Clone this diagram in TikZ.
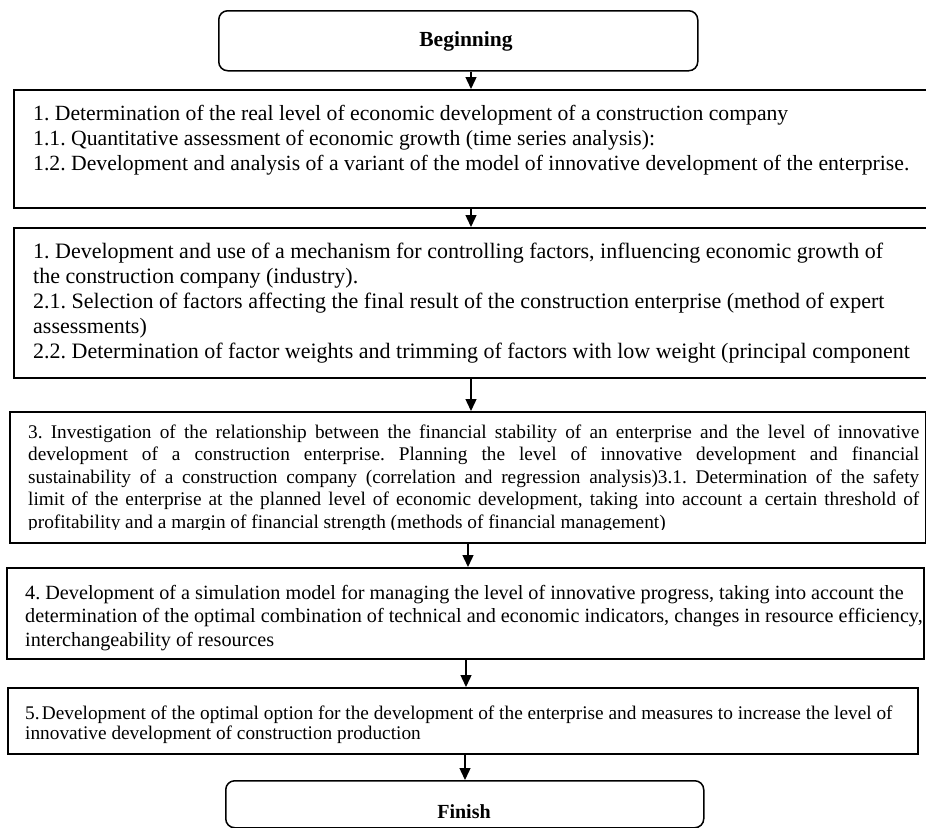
\documentclass[tikz,border=0pt]{standalone}
\usepackage{fontspec}
\setmainfont{Liberation Serif}
\usetikzlibrary{arrows.meta}
\begin{document}
\frenchspacing
\begin{tikzpicture}[x=1pt,y=-1pt,
  stepbox/.style={draw, line width=1.5pt, rectangle, anchor=north west, inner sep=0pt},
  termbox/.style={draw, line width=1.5pt, rectangle, rounded corners=9pt, anchor=north west, inner sep=0pt},
  txt/.style={anchor=north west, inner sep=0pt, align=left},
  jtxt/.style={anchor=north west, inner sep=0pt, align=justify},
  bold/.style={inner sep=0pt, font=\fontsize{21.5}{24}\selectfont\bfseries},
  flow/.style={line width=1.4pt, -{Triangle[length=12pt,width=11pt]}}
]
\useasboundingbox (0,0) rectangle (926,827);
\fill[white] (0,0) rectangle (926,827);

% boxes
\node[termbox, minimum width=479pt, minimum height=60pt] (b0) at (218,10) {};
\node[bold, anchor=base] (t0) at (466,46) {Beginning};

\node[stepbox, minimum width=916pt, minimum height=118pt] (b1) at (13,89) {};
\node[txt, font=\fontsize{21.7}{25}\selectfont] (t1) at (33,103) {\strut 1. Determination of the real level of economic development of a construction company\\
1.1. Quantitative assessment of economic growth (time series analysis):\\
1.2. Development and analysis of a variant of the model of innovative development of the enterprise.};

\node[stepbox, minimum width=916pt, minimum height=150pt] (b2) at (13,227) {};
\node[txt, font=\fontsize{22}{25}\selectfont] (t2) at (33,241) {\strut 1. Development and use of a mechanism for controlling factors, influencing economic growth of\\
the construction company (industry).\\
2.1. Selection of factors affecting the final result of the construction enterprise (method of expert\\
assessments)\\
2.2. Determination of factor weights and trimming of factors with low weight (principal component};

\node[stepbox, minimum width=916pt, minimum height=131pt] (b3) at (9,411) {};
\begin{scope}
\clip (0,411) rectangle (926,529.5);
\node[jtxt, text width=891pt, font=\fontsize{19.3}{22.5}\selectfont] (t3) at (28,422.5) {\strut 3. Investigation of the relationship between the financial stability of an enterprise and the level of innovative\linebreak
development of a construction enterprise. Planning the level of innovative development and financial\linebreak
sustainability of a construction company (correlation and regression analysis)3.1. Determination of the safety\linebreak
limit of the enterprise at the planned level of economic development, taking into account a certain threshold of\linebreak
profitability and a margin of financial strength (methods of financial management)};
\end{scope}

\node[stepbox, minimum width=917pt, minimum height=91pt] (b4) at (6,567) {};
\node[txt, font=\fontsize{20.2}{23.5}\selectfont] (t4) at (25,582.5) {\strut 4. Development of a simulation model for managing the level of innovative progress, taking into account the\\
determination of the optimal combination of technical and economic indicators, changes in resource efficiency,\\
interchangeability of resources};

\node[stepbox, minimum width=910pt, minimum height=66pt] (b5) at (7,687) {};
\node[txt, font=\fontsize{19.3}{20.5}\selectfont] (t5) at (25,704.5) {\strut 5.\hspace{0.12em}Development of the optimal option for the development of the enterprise and measures to increase the level of\\
innovative development of construction production};

\node[termbox, minimum width=478pt, minimum height=47pt] (b6) at (225,780) {};
\node[bold, font=\fontsize{20}{24}\selectfont\bfseries, anchor=base] (t6) at (464,818) {Finish};

% arrow columns
\coordinate (c1) at (471,0);
\coordinate (c2) at (471,0);
\coordinate (c3) at (471,0);
\coordinate (c4) at (468,0);
\coordinate (c5) at (466,0);
\coordinate (c6) at (465,0);

\draw[flow] (b0.south -| c1) -- (b1.north -| c1);
\draw[flow] (b1.south -| c2) -- (b2.north -| c2);
\draw[flow] (b2.south -| c3) -- (b3.north -| c3);
\draw[flow] (b3.south -| c4) -- (b4.north -| c4);
\draw[flow] (b4.south -| c5) -- (b5.north -| c5);
\draw[flow] (b5.south -| c6) -- (b6.north -| c6);
\end{tikzpicture}
\end{document}
